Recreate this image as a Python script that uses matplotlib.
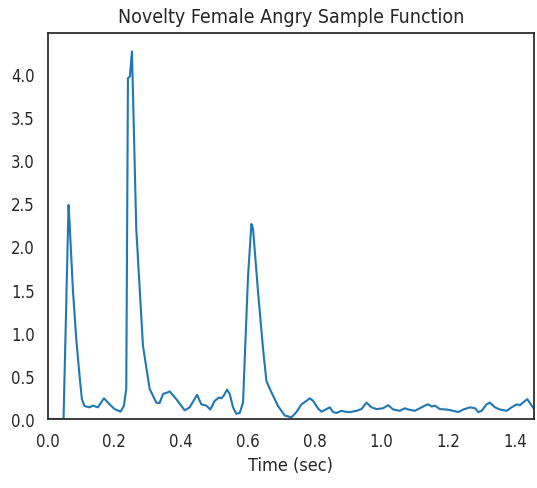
import matplotlib
matplotlib.use("Agg")
import matplotlib.pyplot as plt
import numpy as np

# Novelty function samples (time in seconds, novelty value)
times = [0.000, 0.048, 0.063, 0.066, 0.076, 0.086, 0.096, 0.103, 0.111, 0.126,
         0.136, 0.151, 0.169, 0.186, 0.201, 0.219, 0.229, 0.236, 0.241, 0.247,
         0.253, 0.266, 0.286, 0.306, 0.326, 0.336, 0.346, 0.361, 0.366, 0.386,
         0.411, 0.426, 0.448, 0.461, 0.476, 0.488, 0.501, 0.514, 0.521, 0.528,
         0.538, 0.546, 0.556, 0.566, 0.576, 0.586, 0.591, 0.601, 0.611, 0.616,
         0.631, 0.646, 0.656, 0.671, 0.691, 0.711, 0.731, 0.746, 0.761, 0.776,
         0.786, 0.796, 0.811, 0.821, 0.836, 0.846, 0.856, 0.866, 0.881, 0.891,
         0.906, 0.926, 0.941, 0.956, 0.971, 0.986, 1.006, 1.021, 1.036, 1.056,
         1.071, 1.081, 1.101, 1.116, 1.131, 1.141, 1.151, 1.161, 1.176, 1.196,
         1.216, 1.231, 1.246, 1.266, 1.281, 1.291, 1.301, 1.316, 1.326, 1.341,
         1.356, 1.376, 1.391, 1.406, 1.416, 1.431, 1.438, 1.451, 1.458]
novelty = [0.00, 0.00, 2.48, 2.28, 1.50, 0.93, 0.50, 0.23, 0.15, 0.135,
           0.155, 0.135, 0.24, 0.17, 0.115, 0.085, 0.155, 0.35, 3.95, 3.97,
           4.26, 2.20, 0.85, 0.35, 0.19, 0.185, 0.29, 0.31, 0.32, 0.23,
           0.10, 0.135, 0.28, 0.17, 0.155, 0.11, 0.21, 0.25, 0.24, 0.27,
           0.34, 0.29, 0.135, 0.06, 0.07, 0.19, 0.69, 1.66, 2.26, 2.20,
           1.47, 0.81, 0.44, 0.31, 0.15, 0.04, 0.02, 0.08, 0.17, 0.21,
           0.24, 0.21, 0.12, 0.085, 0.115, 0.135, 0.08, 0.07, 0.095, 0.085,
           0.08, 0.095, 0.115, 0.19, 0.135, 0.115, 0.125, 0.16, 0.11, 0.095,
           0.125, 0.11, 0.095, 0.125, 0.155, 0.17, 0.145, 0.155, 0.115, 0.11,
           0.095, 0.08, 0.11, 0.135, 0.125, 0.08, 0.095, 0.17, 0.19, 0.135,
           0.11, 0.095, 0.135, 0.17, 0.16, 0.21, 0.23, 0.155, 0.12]

title = "Novelty Female Angry Sample Function"
xlabel = "Time (sec)"
xticks = [0.0, 0.2, 0.4, 0.6, 0.8, 1.0, 1.2, 1.4]
yticks = [0.0, 0.5, 1.0, 1.5, 2.0, 2.5, 3.0, 3.5, 4.0]

plt.rcParams['font.family'] = ['DejaVu Sans']
plt.rcParams['font.stretch'] = 'condensed'
txt = '#262626'

fig = plt.figure(figsize=(5.37, 4.89), dpi=100)
ax = fig.add_axes([0.0885, 0.1411, 0.9944 - 0.0885, 0.9305 - 0.1411])
ax.plot(times, novelty, color='#1f77b4', linewidth=1.5)
ax.set_xlim(0, times[-1])
ax.set_ylim(0, max(novelty) * 1.05)
ax.set_xticks(xticks)
ax.set_yticks(yticks)
ax.set_xticklabels([f"{v:.1f}" for v in xticks])
ax.set_yticklabels([f"{v:.1f}" for v in yticks])
ax.tick_params(length=0, labelsize=12, labelcolor=txt, pad=9)
for s in ax.spines.values():
    s.set_color('#262626')
    s.set_linewidth(1.25)
ax.set_title(title, fontsize=14, color=txt, pad=8)
ax.set_xlabel(xlabel, fontsize=13, color=txt, labelpad=5)
fig.savefig("out.png", dpi=100, facecolor='white')
